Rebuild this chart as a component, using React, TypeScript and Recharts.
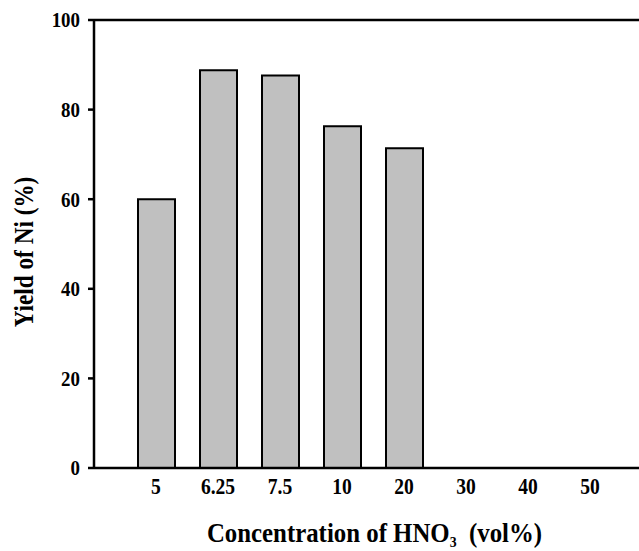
import { Bar, BarChart, ReferenceLine, XAxis, YAxis } from "recharts";

const concentrations = ["5", "6.25", "7.5", "10", "20", "30", "40", "50"];
const yieldNi = [60, 88.8, 87.6, 76.3, 71.4, null, null, null];
const yTicks = [0, 20, 40, 60, 80, 100];

const data = concentrations.map((c, i) => ({ c, y: yieldNi[i] }));

const font = "'Liberation Serif', 'Times New Roman', serif";

// the original figure is a bit squeezed sideways, so text is scaled on x
function XTick({ x, y, payload }: any) {
  return (
    <g transform={`translate(${x},${y}) scale(0.85,1)`}>
      <text x={0} y={0} dy="0.71em" textAnchor="middle" fontFamily={font} fontWeight="bold" fontSize={23} fill="#000">
        {payload.value}
      </text>
    </g>
  );
}

function YTick({ x, y, payload }: any) {
  return (
    <g transform={`translate(${x},${y}) scale(0.9,1)`}>
      <text x={0} y={0} dy="0.355em" textAnchor="end" fontFamily={font} fontWeight="bold" fontSize={21} fill="#000">
        {payload.value}
      </text>
    </g>
  );
}

function XTitle({ viewBox }: any) {
  const cx = viewBox.x + viewBox.width / 2 + 8;
  return (
    <g transform={`translate(${cx},542) scale(0.92,1)`}>
      <text x={0} y={0} textAnchor="middle" fontFamily={font} fontWeight="bold" fontSize={27} fill="#000">
        <tspan>Concentration of HNO</tspan>
        <tspan fontSize={15} dy={5}>3</tspan>
        <tspan dy={-5}>{"\u00a0\u00a0(vol%)"}</tspan>
      </text>
    </g>
  );
}

function YTitle() {
  return (
    <g transform="translate(33,252) rotate(-90) scale(0.86,1)">
      <text x={0} y={0} textAnchor="middle" fontFamily={font} fontWeight="bold" fontSize={27} fill="#000">
        Yield of Ni (%)
      </text>
    </g>
  );
}

export default function App() {
  return (
    <div style={{ position: "absolute", left: 0, top: 0, background: "#fff" }}>
      <BarChart width={639} height={551} data={data} margin={{ top: 20, right: 0, bottom: 0, left: 0 }} barCategoryGap={0}>
        <XAxis
          dataKey="c"
          height={83}
          padding={{ left: 31, right: 18 }}
          tickLine={false}
          tickSize={0}
          tickMargin={10}
          axisLine={{ stroke: "#000", strokeWidth: 2.5 }}
          tick={<XTick />}
          label={<XTitle />}
        />
        <YAxis
          width={94}
          domain={[0, 100]}
          ticks={yTicks}
          tickSize={6}
          tickMargin={8}
          axisLine={{ stroke: "#000", strokeWidth: 2.5 }}
          tickLine={{ stroke: "#000", strokeWidth: 2.5 }}
          tick={<YTick />}
          label={<YTitle />}
        />
        <ReferenceLine y={100} stroke="#000" strokeWidth={2.5} />
        <Bar dataKey="y" barSize={37} fill="#c0c0c0" stroke="#000" strokeWidth={2} isAnimationActive={false} />
      </BarChart>
    </div>
  );
}
